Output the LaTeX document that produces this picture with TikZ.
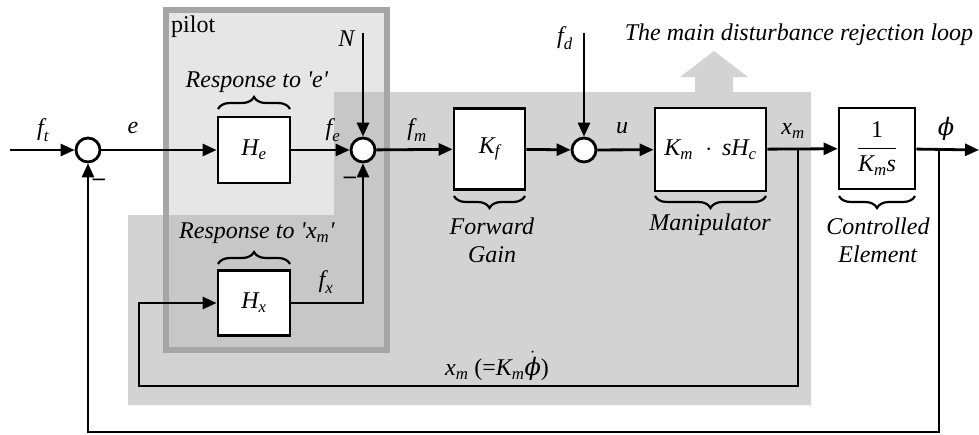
\documentclass[tikz,border=0pt]{standalone}
\usepackage{amsmath}
\usepackage{fontspec}
\setmainfont{Liberation Serif}
\newfontfamily\phifont{DejaVu Serif}
\usetikzlibrary{arrows.meta,decorations.pathreplacing,calc}
\newcommand{\vsub}[2]{\textit{#1}_{\textit{#2}}}
\newcommand{\myphi}{\text{\phifont\itshape ϕ}}
\definecolor{pilotfill}{HTML}{E6E6E6}
\definecolor{loopfill}{HTML}{D3D3D3}
\definecolor{overlapfill}{HTML}{C7C7C7}
\definecolor{pilotedge}{HTML}{A6A6A6}
\begin{document}
\begin{tikzpicture}[x=1pt,y=-1pt,
  every node/.style={font=\fontsize{24}{29}\selectfont},
  blk/.style={draw, line width=2.8pt, fill=white, inner sep=0pt},
  sumnode/.style={circle, draw, line width=2.8pt, fill=white, minimum size=24pt, inner sep=0pt},
  conn/.style={line width=2.8pt, -{Triangle[length=14pt,width=12pt]}},
  lbl/.style={inner sep=0pt},
  brc/.style={decorate, decoration={brace, amplitude=12pt}, line width=2.2pt},
]
\useasboundingbox (0,0) rectangle (979,434);

% ---- background regions ----
\fill[pilotfill] (165.5,10) rectangle (386.5,350);
\fill[loopfill] (695,93) -- (695,77) -- (680,77) -- (714,51) -- (748,77) -- (733,77) -- (733,93) -- cycle;
\fill[loopfill] (334,92) -- (811,92) -- (811,405) -- (128,405) -- (128,215) -- (334,215) -- cycle;
\begin{scope}
  \clip (165.5,10) rectangle (386.5,350);
  \fill[overlapfill] (334,92) -- (811,92) -- (811,405) -- (128,405) -- (128,215) -- (334,215) -- cycle;
\end{scope}
\draw[pilotedge, line width=6pt] (165.5,10) rectangle (386.5,350);

\node[lbl, anchor=west] (pilot) at (171,27) {pilot};
\node[lbl] (title) at (799,35) {\textit{The main disturbance rejection loop}};

% ---- blocks ----
\node[sumnode] (s1) at (88,150) {};
\node[blk, minimum width=72pt, minimum height=66pt] (He) at (254,150) {$\vsub{H}{e}$};
\node[sumnode] (s3) at (363,150) {};
\node[blk, minimum width=71pt, minimum height=81pt] (Kf) at (489.5,149) {$\vsub{K}{f}$};
\node[sumnode] (s2) at (584,150) {};
\node[blk, minimum width=111pt, minimum height=83pt] (Km) at (710.5,149.5) {$\vsub{K}{m}\;\cdot\,\textit{s}\vsub{H}{c}$};
\node[blk, minimum width=76pt, minimum height=81pt] (CE) at (877,148.5) {$\dfrac{\textrm{1}}{\vsub{K}{m}\textit{s}}$};
\node[blk, minimum width=72pt, minimum height=65pt] (Hx) at (254,303) {$\vsub{H}{x}$};

% ---- coordinates ----
\coordinate (in) at (10,150);
\coordinate (Nin) at (363,33);
\coordinate (fdin) at (584,33);
\coordinate (out) at (979,150);
\coordinate (bxm) at (798,150);
\coordinate (bphi) at (939,150);
\coordinate (fbL) at (139,386);
\coordinate (fbO) at (88,432);

% ---- connectors ----
\draw[conn] (in) -- (s1);
\draw[conn] (s1) -- (He);
\draw[conn] (He) -- (s3);
\draw[conn] (Nin) -- (s3);
\draw[conn] (s3) -- (Kf);
\draw[conn] (Kf) -- (s2);
\draw[conn] (fdin) -- (s2);
\draw[conn] (s2) -- (Km);
\draw[conn] (Km) -- (CE);
\draw[conn] (CE) -- (out);
\draw[conn] (bxm) |- (fbL) |- (Hx);
\draw[conn] (Hx) -| (s3);
\draw[conn] (bphi) |- (fbO) -- (s1);

% ---- signal labels ----
\node[lbl] (lft) at (43,130) {$\vsub{f}{t}$};
\node[lbl] (le) at (133,128) {\textit{e}};
\node[lbl] (lfe) at (333,130) {$\vsub{f}{e}$};
\node[lbl] (lN) at (347,39) {\textit{N}};
\node[lbl] (lfm) at (417,130) {$\vsub{f}{m}$};
\node[lbl] (lfd) at (565,38) {$\vsub{f}{d}$};
\node[lbl] (lu) at (622,128) {\textit{u}};
\node[lbl] (lxm) at (793,131) {$\vsub{x}{m}$};
\node[lbl] (lphi) at (946,129) {$\myphi$};
\node[lbl] (lfx) at (326,282) {$\vsub{f}{x}$};
\node[lbl] (lxfb) at (497,366) {$\vsub{x}{m}$ (=$\vsub{K}{m}\dot{\myphi}$)};
\node[lbl] (m1) at (99,182) {\textbf{–}};
\node[lbl] (m3) at (350,180) {\textbf{–}};

% ---- braces and captions ----
\draw[brc] (218,109) -- (290,109);
\node[lbl] (rese) at (257,82) {\textit{Response to \textquotesingle e\textquotesingle}};
\draw[brc] (218,264) -- (290,264);
\node[lbl] (resx) at (257,233) {\textit{Response to \textquotesingle}$\vsub{x}{m}$\textit{\textquotesingle}};
\draw[brc] (525,196) -- (454,196);
\node[lbl, align=center] (fg) at (492,240) {\textit{Forward}\\[-1pt]\textit{Gain}};
\draw[brc] (766,196) -- (655,196);
\node[lbl] (man) at (710,225) {\textit{Manipulator}};
\draw[brc] (915,196) -- (839,196);
\node[lbl, align=center] (ce) at (878,240) {\textit{Controlled}\\[-1pt]\textit{Element}};
\end{tikzpicture}
\end{document}
